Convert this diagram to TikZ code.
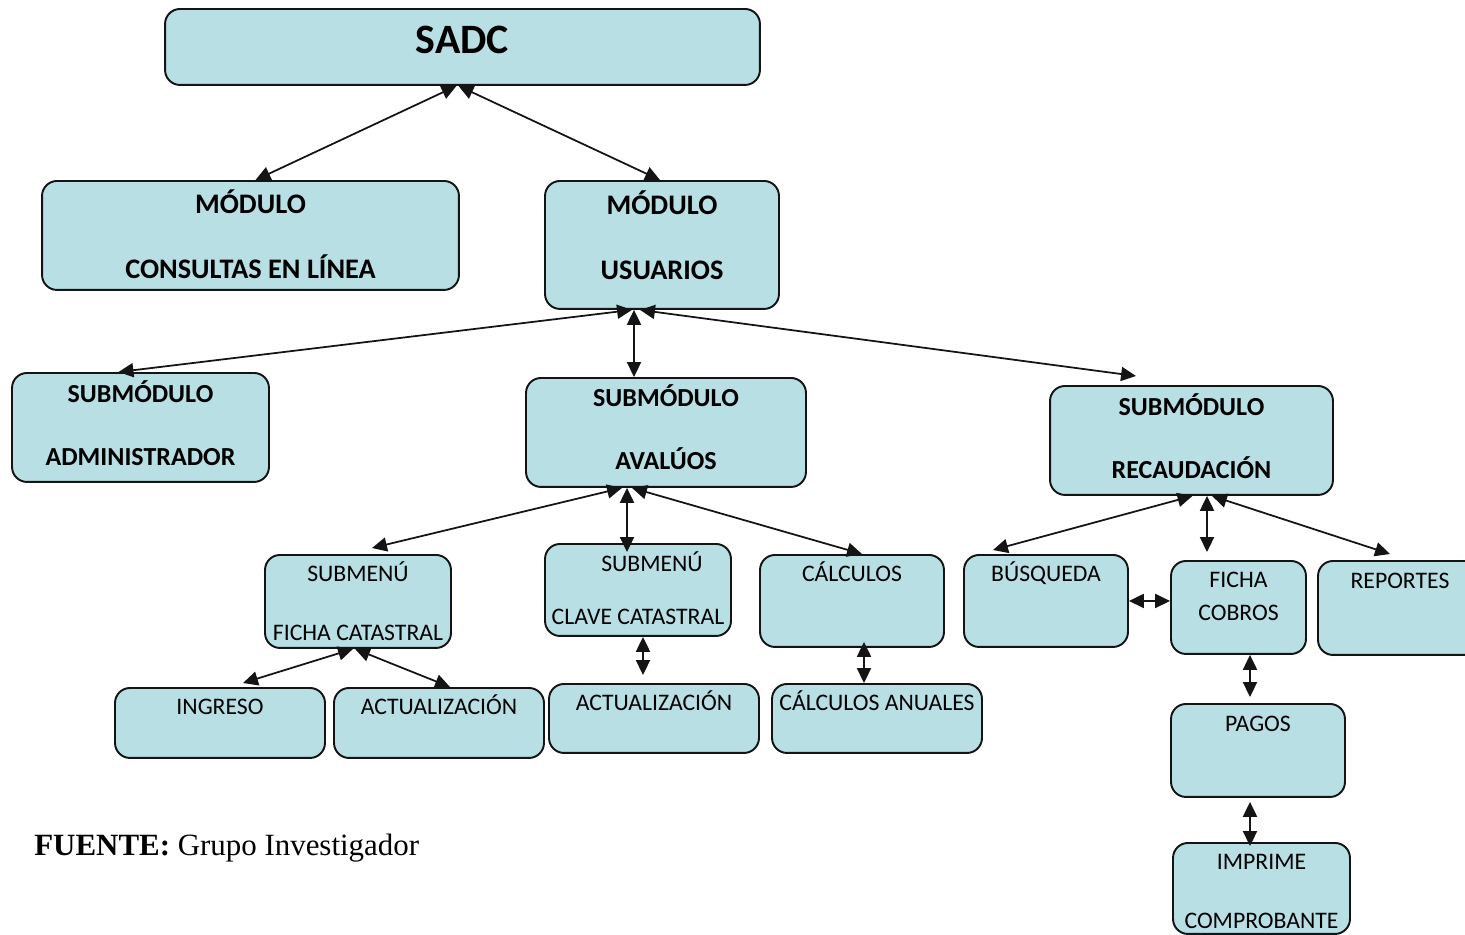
\documentclass[tikz,border=0pt]{standalone}
\usepackage{fontspec}
\setmainfont{Carlito}
\newfontfamily\timesfont{Liberation Serif}
\usetikzlibrary{arrows.meta}
\definecolor{sadcfill}{RGB}{184,223,227}
\definecolor{sadcline}{RGB}{20,20,20}

\begin{document}
\begin{tikzpicture}[x=0.02cm, y=-0.02cm,
    box/.style={rectangle, rounded corners=0.3cm, draw=sadcline, fill=sadcfill, line width=1.1pt, inner xsep=2pt, inner ysep=0pt, anchor=north, align=center},
    modbox/.style={box, font=\fontsize{16.1}{37.5}\selectfont\bfseries},
    subbox/.style={box, font=\fontsize{14.8}{36}\selectfont\bfseries},
    menubox/.style={box, font=\fontsize{13.5}{33.6}\selectfont},
    dims/.style n args={3}{minimum width=#1, text height=#2, text depth=#3},
    link/.style={{Triangle[length=8.5pt, width=8pt]}-{Triangle[length=8.5pt, width=8pt]}, line width=1pt, color=sadcline}
]
\useasboundingbox (0,0) rectangle (1465,934);
\clip (0,0) rectangle (1465,934);
\node[box, font=\fontsize{23.8}{28}\selectfont\bfseries, dims={11.9cm}{0.90cm}{0.62cm}] (sadc) at (462.5,8) {SADC};
\node[modbox, dims={8.34cm}{1.96cm}{0.22cm}] (cons) at (250.5,180) {MÓDULO\\CONSULTAS EN LÍNEA};
\node[modbox, dims={4.68cm}{1.98cm}{0.58cm}] (usu) at (662,180) {MÓDULO\\USUARIOS};
\node[subbox, dims={5.14cm}{1.86cm}{0.32cm}] (adm) at (140.5,372) {SUBMÓDULO\\ADMINISTRADOR};
\node[subbox, dims={5.6cm}{1.84cm}{0.34cm}] (aval) at (666,377) {SUBMÓDULO\\AVALÚOS};
\node[subbox, dims={5.66cm}{1.86cm}{0.32cm}] (rec) at (1191.5,385) {SUBMÓDULO\\RECAUDACIÓN};
\node[menubox, dims={3.72cm}{1.72cm}{0.14cm}] (fcat) at (358,554) {SUBMENÚ\\FICHA CATASTRAL};
\node[menubox, dims={3.72cm}{1.62cm}{0.22cm}] (clave) at (638,543) {\hspace*{0.56cm}SUBMENÚ\\[-2.9pt]CLAVE CATASTRAL};
\node[menubox, dims={3.68cm}{0.54cm}{1.30cm}] (calc) at (852,554) {CÁLCULOS};
\node[menubox, dims={3.28cm}{0.54cm}{1.30cm}] (busq) at (1046,554) {BÚSQUEDA};
\node[menubox, dims={2.7cm}{1.20cm}{0.66cm}] (fcob) at (1238.5,560) {FICHA\\[-14.8pt]COBROS};
\node[menubox, dims={3.28cm}{0.56cm}{1.32cm}] (rep) at (1400,560) {REPORTES};
\node[menubox, dims={4.2cm}{0.54cm}{0.86cm}] (ing) at (220,687) {INGRESO};
\node[menubox, dims={4.2cm}{0.54cm}{0.86cm}] (act1) at (439,687) {ACTUALIZACIÓN};
\node[menubox, dims={4.2cm}{0.54cm}{0.84cm}] (act2) at (654,683) {ACTUALIZACIÓN};
\node[menubox, dims={4.2cm}{0.54cm}{0.84cm}] (canu) at (877,683) {CÁLCULOS ANUALES};
\node[menubox, dims={3.48cm}{0.56cm}{1.30cm}] (pag) at (1258,703) {PAGOS};
\node[menubox, dims={3.54cm}{1.72cm}{0.10cm}] (impr) at (1261.5,842) {IMPRIME\\COMPROBANTE};
\node[anchor=base west, inner sep=0pt, font=\timesfont\fontsize{17.6}{21}\selectfont] (fuente) at (34,855) {\textbf{FUENTE:} Grupo Investigador};
\draw[link] ([xshift=-0.12cm]sadc.south) -- ([xshift=0.1cm]cons.north);
\draw[link] ([xshift=-0.08cm]sadc.south) -- ([xshift=-0.04cm]usu.north);
\draw[link] ([xshift=-0.6cm]usu.south) -- ([xshift=-0.44cm]adm.north);
\draw[link] ([xshift=-0.56cm]usu.south) -- ([xshift=-0.64cm]aval.north);
\draw[link] ([xshift=-0.44cm]usu.south) -- ([xshift=-1.11cm, yshift=0.18cm]rec.north);
\draw[link] ([xshift=-0.88cm]aval.south) -- ([xshift=0.28cm, yshift=0.12cm]fcat.north);
\draw[link] ([xshift=-0.78cm]aval.south) -- ([xshift=-0.22cm, yshift=-0.18cm]clave.north);
\draw[link] ([xshift=-0.68cm]aval.south) -- ([xshift=0.2cm]calc.north);
\draw[link] ([xshift=-0.1cm]fcat.south) -- ([xshift=0.46cm, yshift=0.08cm]ing.north);
\draw[link] ([xshift=-0.06cm]fcat.south) -- ([xshift=0.22cm]act1.north);
\draw[link] ([xshift=0.1cm]clave.south) -- ([xshift=-0.22cm, yshift=0.16cm]act2.north);
\draw[link] ([xshift=0.24cm, yshift=0.12cm]calc.south) -- ([xshift=-0.26cm]canu.north);
\draw[link] ([xshift=0.02cm]rec.south) -- ([xshift=-1.06cm, yshift=0.08cm]busq.north);
\draw[link] ([xshift=0.31cm]rec.south) -- ([xshift=-0.63cm, yshift=0.16cm]fcob.north);
\draw[link] ([xshift=0.41cm]rec.south) -- ([xshift=-0.2cm, yshift=0.12cm]rep.north);
\draw[link] (busq.east) -- ([yshift=0.13cm]fcob.west);
\draw[link] ([xshift=0.23cm]fcob.south) -- ([xshift=-0.16cm, yshift=0.12cm]pag.north);
\draw[link] ([xshift=-0.16cm, yshift=-0.08cm]pag.south) -- ([xshift=-0.23cm, yshift=-0.08cm]impr.north);
\end{tikzpicture}
\end{document}
